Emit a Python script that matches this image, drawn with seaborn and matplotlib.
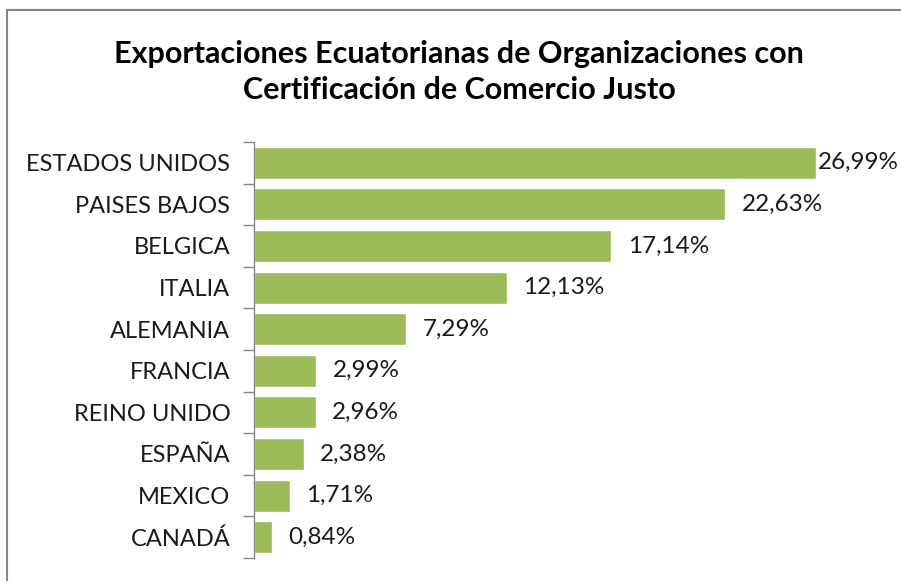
# chart of fair trade exports by destination country

import pandas as pd
import matplotlib.pyplot as plt
import seaborn as sns
from matplotlib.patches import Rectangle

# data
paises = ['ESTADOS UNIDOS', 'PAISES BAJOS', 'BELGICA', 'ITALIA', 'ALEMANIA',
          'FRANCIA', 'REINO UNIDO', 'ESPAÑA', 'MEXICO', 'CANADÁ']
porcentajes = [26.99, 22.63, 17.14, 12.13, 7.29, 2.99, 2.96, 2.38, 1.71, 0.84]
etiquetas = ['26,99%', '22,63%', '17,14%', '12,13%', '7,29%',
             '2,99%', '2,96%', '2,38%', '1,71%', '0,84%']

df = pd.DataFrame({'pais': paises, 'pct': porcentajes})

sns.set_style('white')
plt.rcParams['font.family'] = ['Lato', 'DejaVu Sans']

fig = plt.figure(figsize=(9.01, 5.81), dpi=100)
ax = fig.add_axes([254 / 901, 23 / 581, (879 - 254) / 901, (558 - 142) / 581])

sns.barplot(data=df, x='pct', y='pais', color='#9bbb59', saturation=1,
            width=0.77, ax=ax)

ax.set_xlim(0, 30)
ax.set_ylim(len(paises) - 0.5, -0.5)
ax.set_xlabel('')
ax.set_ylabel('')
ax.set_xticks([])

# category boundary ticks like excel
ax.set_yticks([i - 0.5 for i in range(len(paises) + 1)], minor=True)
ax.tick_params(axis='y', which='minor', left=True, length=8, width=1,
               color='#868686', direction='out')
ax.tick_params(axis='y', which='major', length=0, pad=17, labelsize=17, labelcolor='#1a1a1a')

for s in ['top', 'right', 'bottom']:
    ax.spines[s].set_visible(False)
ax.spines['left'].set_color('#868686')
ax.spines['left'].set_linewidth(1)

# value labels
for i, (v, t) in enumerate(zip(porcentajes, etiquetas)):
    off = 1 if v == max(porcentajes) else 12
    ax.annotate(t, (v, i), xytext=(off, 0), textcoords='offset points',
                va='center', ha='left', fontsize=17.5, color='#1a1a1a')

fig.text(459 / 901, 1 - 72 / 581,
         'Exportaciones Ecuatorianas de Organizaciones con\nCertificación de Comercio Justo',
         ha='center', va='center', fontsize=22, fontweight='bold',
         color='#000000', linespacing=1.35)

# chart border (cut on right and bottom)
fig.patches.append(Rectangle((7 / 901, -0.1), 1.1, 1 - 10 / 581 + 0.1,
                             transform=fig.transFigure, fill=False,
                             edgecolor='#868686', linewidth=1.5))

plt.savefig('out.png', dpi=100)
